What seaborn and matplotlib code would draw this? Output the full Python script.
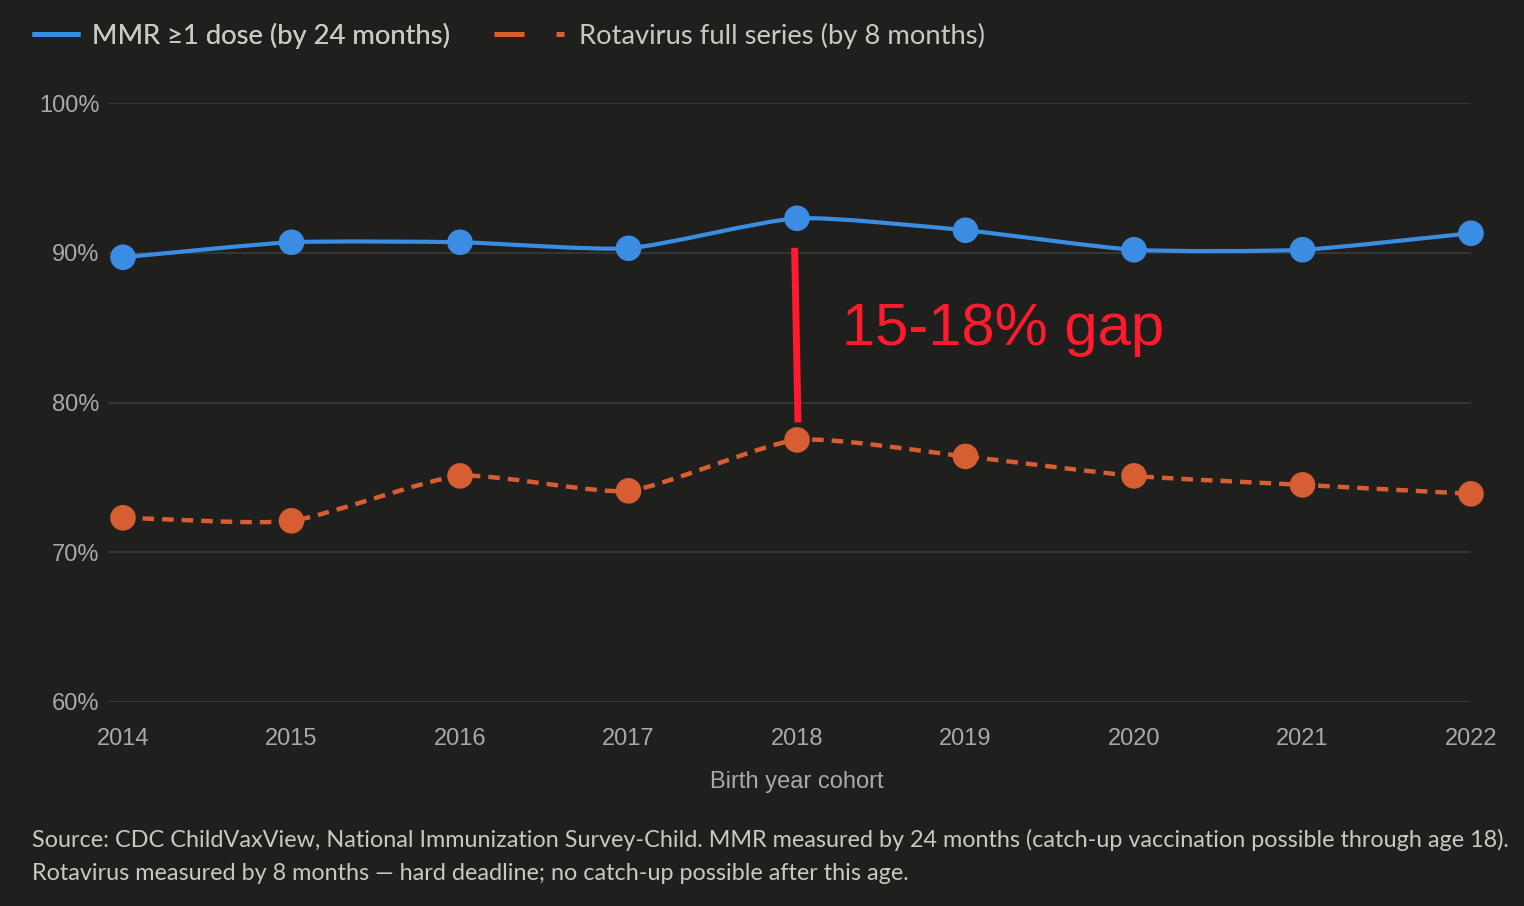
import numpy as np
import pandas as pd
import matplotlib
matplotlib.use('Agg')
import matplotlib.pyplot as plt
import seaborn as sns
from matplotlib.path import Path
from matplotlib.patches import PathPatch
from matplotlib.lines import Line2D

## data
years = [2014, 2015, 2016, 2017, 2018, 2019, 2020, 2021, 2022]
mmr = [89.7, 90.7, 90.7, 90.3, 92.3, 91.5, 90.2, 90.2, 91.3]
rota = [72.3, 72.1, 75.1, 74.1, 77.5, 76.4, 75.1, 74.5, 73.9]
y_ticks = [60, 70, 80, 90, 100]
y_labels = ['60%', '70%', '80%', '90%', '100%']
mmr_label = 'MMR \u22651 dose (by 24 months)'
rota_label = 'Rotavirus full series (by 8 months)'
gap_label = '15-18% gap'
x_title = 'Birth year cohort'
source_lines = [
    'Source: CDC ChildVaxView, National Immunization Survey-Child. MMR measured by 24 months '
    '(catch-up vaccination possible through age 18).',
    'Rotavirus measured by 8 months \u2014 hard deadline; no catch-up possible after this age.',
]

df = pd.DataFrame({'year': years, 'mmr': mmr, 'rota': rota})

## colours
BG = '#1f1f1e'
GRID = '#353533'
BLUE = '#3a8de2'
ORANGE = '#d75e32'
RED = '#ff1b2d'
TICK = '#a9a9a7'
TEXT = '#cac8bf'

sns.set_theme(style='dark')
plt.rcParams['font.family'] = ['Liberation Sans', 'DejaVu Sans']

W, H = 1524, 906
fig = plt.figure(figsize=(W / 100, H / 100), dpi=100, facecolor=BG)
# plot area in pixels: left 108, right 1471, top 103, bottom 702
ax = fig.add_axes([108 / W, (H - 702) / H, (1471 - 108) / W, (702 - 103) / H])
ax.set_facecolor(BG)
px_per_year = (1471 - 123) / 8
ax.set_xlim(2014 - 15 / px_per_year, 2022)
ax.set_ylim(60, 100)


def spline_path(ax, xs, ys, tension=0.2):
    # bezier through the points, like chart.js line tension
    pts = np.column_stack([xs, ys]).astype(float)
    pix = ax.transData.transform(pts)
    n = len(pts)
    cp_prev, cp_next = [], []
    for i in range(n):
        a = i - 1 if i > 0 else i
        b = i + 1 if i < n - 1 else i
        d01 = np.hypot(*(pix[i] - pix[a]))
        d12 = np.hypot(*(pix[b] - pix[i]))
        tot = d01 + d12
        fa = tension * d01 / tot
        fb = tension * d12 / tot
        cp_prev.append(pts[i] - fa * (pts[b] - pts[a]))
        cp_next.append(pts[i] + fb * (pts[b] - pts[a]))
    verts = [pts[0]]
    codes = [Path.MOVETO]
    for i in range(n - 1):
        verts += [cp_next[i], cp_prev[i + 1], pts[i + 1]]
        codes += [Path.CURVE4] * 3
    return Path(verts, codes)


ax.add_patch(PathPatch(spline_path(ax, df['year'], df['mmr']), fill=False,
                       edgecolor=BLUE, lw=3, capstyle='round', zorder=3))
ax.add_patch(PathPatch(spline_path(ax, df['year'], df['rota']), fill=False,
                       edgecolor=ORANGE, lw=3.2, linestyle=(0, (2.6, 1.8)),
                       capstyle='butt', zorder=3))

sns.scatterplot(data=df, x='year', y='mmr', ax=ax, s=340, color=BLUE,
                edgecolor='none', zorder=4, clip_on=False)
sns.scatterplot(data=df, x='year', y='rota', ax=ax, s=340, color=ORANGE,
                edgecolor='none', zorder=4, clip_on=False)

for s in ax.spines.values():
    s.set_visible(False)
ax.set_yticks(y_ticks)
ax.set_yticklabels(y_labels)
ax.set_xticks(years)
ax.set_xticklabels([str(y) for y in years])
ax.grid(False)
for t in y_ticks:
    ax.axhline(t, color=GRID, lw=1.5, zorder=0)
ax.tick_params(axis='y', length=0, pad=6, labelsize=17, labelcolor=TICK)
ax.tick_params(axis='x', length=0, pad=19, labelsize=17, labelcolor=TICK)
ax.set_xlabel(x_title, fontsize=17, color=TICK)
ax.set_ylabel('')
# title sits under the middle year, not the middle of the axes
ax.xaxis.set_label_coords((797 - 108) / (1471 - 108), -(782 - 702) / (702 - 103))
ax.xaxis.label.set_va('center')

# gap annotation at 2018
i18 = years.index(2018)
ax.plot([2018 - 0.014, 2018 + 0.006], [mmr[i18] - 1.97, rota[i18] + 1.17],
        color=RED, lw=5, solid_capstyle='butt', zorder=5)
ax.text(2018.27, 84.9, gap_label, color=RED, fontsize=43, va='center', ha='left',
        family=['Liberation Sans', 'DejaVu Sans'])

# legend (two separate boxes so the handles can differ in length)
leg_font = {'family': ['Lato', 'DejaVu Sans'], 'size': 19.7}
h1 = Line2D([], [], color=BLUE, lw=3.6, solid_capstyle='butt')
h2 = Line2D([], [], color=ORANGE, lw=3.6, linestyle=(0, (6, 6.4, 1.6, 10)),
            dash_capstyle='butt')
leg1 = fig.legend([h1], [mmr_label], loc='center left', bbox_to_anchor=(32 / W, 1 - 36 / H),
                  frameon=False, prop=leg_font, handlelength=1.76, handletextpad=0.43,
                  borderpad=0, borderaxespad=0, labelcolor=TEXT)
leg2 = fig.legend([h2], [rota_label], loc='center left', bbox_to_anchor=(494 / W, 1 - 36 / H),
                  frameon=False, prop=leg_font, handlelength=2.63, handletextpad=0.48,
                  borderpad=0, borderaxespad=0, labelcolor=TEXT)
fig.add_artist(leg1)

# source note
for k, line in enumerate(source_lines):
    fig.text(32 / W, 1 - (840 + 33 * k) / H, line, color=TEXT, fontsize=16.85,
             family=['Lato', 'DejaVu Sans'], va='center', ha='left')

fig.savefig('out.png', dpi=100, facecolor=BG)
